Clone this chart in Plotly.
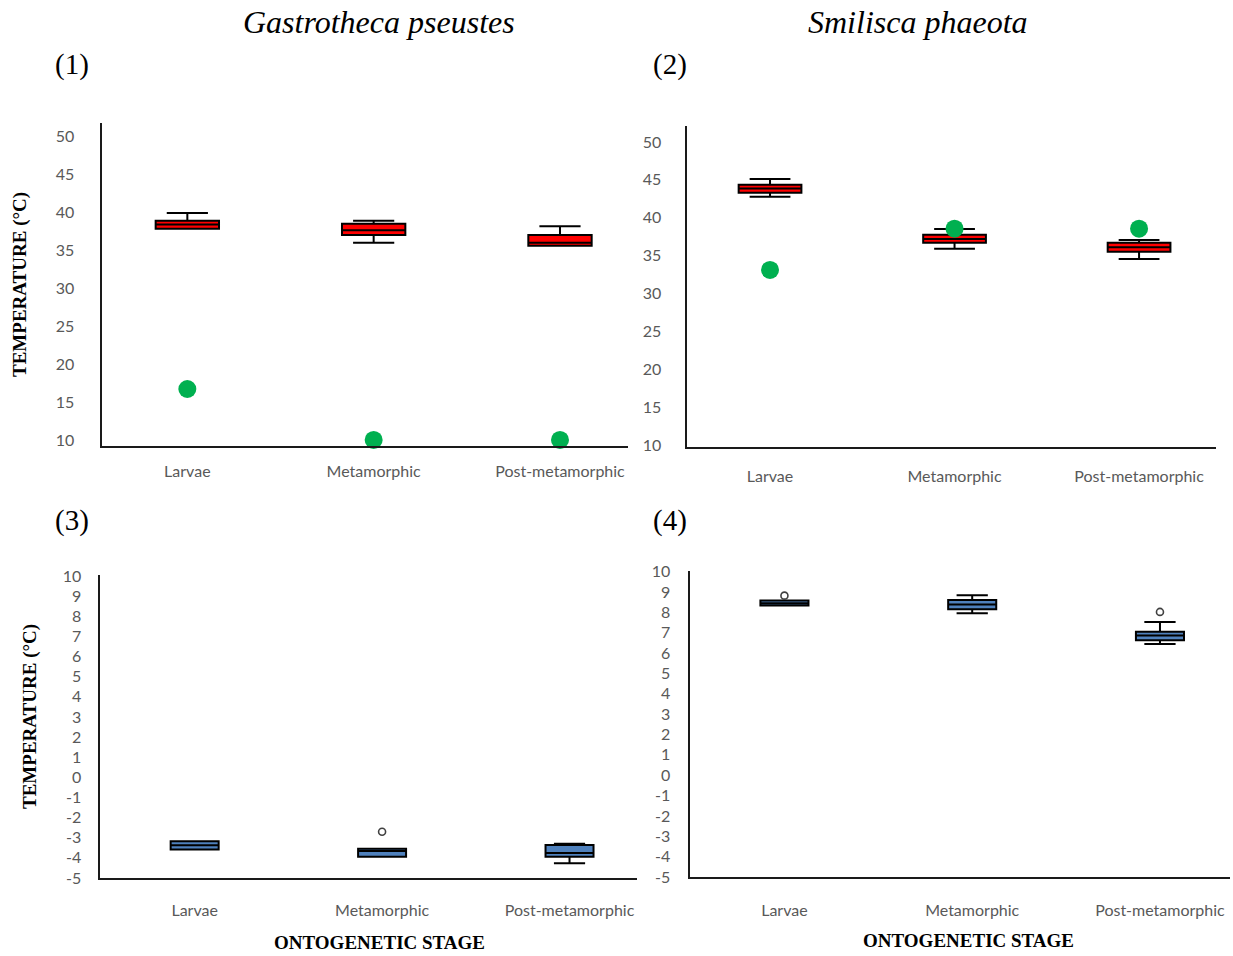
import plotly.graph_objects as go

W, H = 1233, 956

stages = ["Larvae", "Metamorphic", "Post-metamorphic"]

# Panel 1: Gastrotheca pseustes, CTmax (red boxes) + green points
p1_upper = [39.85, 38.85, 38.1]
p1_q3 = [38.85, 38.45, 36.95]
p1_median = [38.35, 37.6, 35.95]
p1_q1 = [37.8, 36.95, 35.55]
p1_lower = [37.8, 35.95, 35.55]
p1_green = [16.7, 10.0, 10.0]

# Panel 2: Smilisca phaeota, CTmax
p2_upper = [45.1, 38.5, 37.05]
p2_q3 = [44.35, 37.75, 36.7]
p2_median = [43.85, 37.2, 36.1]
p2_q1 = [43.3, 36.7, 35.5]
p2_lower = [42.75, 35.9, 34.55]
p2_green = [33.1, 38.55, 38.55]

# Panel 3: Gastrotheca pseustes, CTmin (blue boxes)
p3_upper = [-3.18, -3.55, -3.3]
p3_q3 = [-3.18, -3.55, -3.36]
p3_median = [-3.37, -3.66, -3.76]
p3_q1 = [-3.58, -3.95, -3.95]
p3_lower = [-3.58, -3.95, -4.27]
p3_out_x = ["Metamorphic"]
p3_out_y = [-2.7]

# Panel 4: Smilisca phaeota, CTmin
p4_upper = [8.58, 8.84, 7.52]
p4_q3 = [8.58, 8.61, 7.05]
p4_median = [8.45, 8.38, 6.86]
p4_q1 = [8.34, 8.15, 6.63]
p4_lower = [8.34, 7.96, 6.45]
p4_out_x = ["Larvae", "Post-metamorphic"]
p4_out_y = [8.82, 8.02]

ticks_hi = [10, 15, 20, 25, 30, 35, 40, 45, 50]
ticks_lo = list(range(-5, 11))
ticks_lo_text = [str(v) for v in ticks_lo]  # hyphen minus like the original

RED = "#ff0000"
BLUE = "#4f81bd"
GREEN = "#00b050"

fig = go.Figure()


def add_box(axis, q1, med, q3, lo, hi, color, width):
    fig.add_trace(go.Box(
        x=stages, q1=q1, median=med, q3=q3, lowerfence=lo, upperfence=hi,
        fillcolor=color, line=dict(color="#000000", width=2),
        width=width, whiskerwidth=0.65, boxpoints=False,
        xaxis="x" + axis, yaxis="y" + axis, showlegend=False, hoverinfo="skip"))


add_box("", p1_q1, p1_median, p1_q3, p1_lower, p1_upper, RED, 0.34)
add_box("2", p2_q1, p2_median, p2_q3, p2_lower, p2_upper, RED, 0.34)
add_box("3", p3_q1, p3_median, p3_q3, p3_lower, p3_upper, BLUE, 0.256)
add_box("4", p4_q1, p4_median, p4_q3, p4_lower, p4_upper, BLUE, 0.256)

fig.add_trace(go.Scatter(x=stages, y=p1_green, mode="markers", xaxis="x", yaxis="y",
                         marker=dict(color=GREEN, size=18, line=dict(width=0)),
                         showlegend=False, cliponaxis=False))
fig.add_trace(go.Scatter(x=stages, y=p2_green, mode="markers", xaxis="x2", yaxis="y2",
                         marker=dict(color=GREEN, size=18, line=dict(width=0)),
                         showlegend=False, cliponaxis=False))
fig.add_trace(go.Scatter(x=p3_out_x, y=p3_out_y, mode="markers", xaxis="x3", yaxis="y3",
                         marker=dict(symbol="circle-open", color="#404040", size=7,
                                     line=dict(width=1.6)), showlegend=False))
fig.add_trace(go.Scatter(x=p4_out_x, y=p4_out_y, mode="markers", xaxis="x4", yaxis="y4",
                         marker=dict(symbol="circle-open", color="#404040", size=7,
                                     line=dict(width=1.6)), showlegend=False))

tickfont = dict(family="Lato, Open Sans, sans-serif", size=16, color="#595959")


def fx(px):
    return px / W


def fy(py):
    return 1 - py / H


def px_x(a, b):
    return [fx(a), fx(b)]


def px_y(top, bottom):
    return [fy(bottom), fy(top)]


def xaxis(dom, rng, standoff, anchor):
    return dict(domain=dom, range=rng, type="category", categoryorder="array",
                categoryarray=stages, showline=True, linecolor="#1a1a1a", linewidth=1.6,
                showgrid=False, zeroline=False, ticks="", tickfont=tickfont,
                ticklabelstandoff=standoff, anchor=anchor, fixedrange=True,
                automargin=False)


def yaxis(dom, rng, tv, tt, standoff, anchor):
    return dict(domain=dom, range=rng, tickmode="array", tickvals=tv, ticktext=tt,
                showline=True, linecolor="#1a1a1a", linewidth=1.6, showgrid=False,
                zeroline=False, ticks="", tickfont=tickfont, ticklabelstandoff=standoff,
                anchor=anchor, fixedrange=True, automargin=False)


fig.update_layout(
    template="none",
    width=W, height=H, autosize=False,
    margin=dict(l=0, r=0, t=0, b=0, pad=0, autoexpand=False),
    paper_bgcolor="white", plot_bgcolor="white", showlegend=False,
    xaxis=xaxis(px_x(102, 628), [-0.458, 2.365], 10, "y"),
    yaxis=yaxis(px_y(123, 446), [9.2, 51.7], ticks_hi, [str(v) for v in ticks_hi], 23, "x"),
    xaxis2=xaxis(px_x(687, 1216), [-0.45, 2.417], 14, "y2"),
    yaxis2=yaxis(px_y(126, 447), [9.74, 52.1], ticks_hi, [str(v) for v in ticks_hi], 21, "x2"),
    xaxis3=xaxis(px_x(100, 637), [-0.505, 2.36], 17, "y3"),
    yaxis3=yaxis(px_y(575, 878), [-5, 10.05], ticks_lo, ticks_lo_text, 14, "x3"),
    xaxis4=xaxis(px_x(690, 1230), [-0.503, 2.373], 18, "y4"),
    yaxis4=yaxis(px_y(571, 877), [-5, 10.03], ticks_lo, ticks_lo_text, 15, "x4"),
)

serif = "Liberation Serif, Times New Roman, serif"
ann = []
ann.append(dict(text="<i>Gastrotheca pseustes</i>", x=fx(379), y=fy(22),
                font=dict(family=serif, size=32, color="black")))
ann.append(dict(text="<i>Smilisca phaeota</i>", x=fx(918), y=fy(22),
                font=dict(family=serif, size=32, color="black")))
for lbl, cx, cy in [("(1)", 72, 65), ("(2)", 670, 65), ("(3)", 72, 520), ("(4)", 670, 520)]:
    ann.append(dict(text=lbl, x=fx(cx), y=fy(cy),
                    font=dict(family=serif, size=29, color="black")))
for cx, cy in [(20, 285), (30, 717)]:
    ann.append(dict(text="<b>TEMPERATURE (°C)</b>", x=fx(cx), y=fy(cy), textangle=-90,
                    font=dict(family=serif, size=19, color="black")))
for cx, cy in [(380, 942), (968, 940)]:
    ann.append(dict(text="<b>ONTOGENETIC STAGE</b>", x=fx(cx), y=fy(cy),
                    font=dict(family=serif, size=19, color="black")))
for a in ann:
    a.update(xref="paper", yref="paper", showarrow=False, xanchor="center", yanchor="middle")
fig.update_layout(annotations=ann)

# remove the default page margin so the figure fills the 1233x956 window exactly
fig.write_html("out.html",
               config={"displayModeBar": False, "staticPlot": True},
               post_script="document.body.style.margin='0';"
                           "document.body.style.overflow='hidden';")
